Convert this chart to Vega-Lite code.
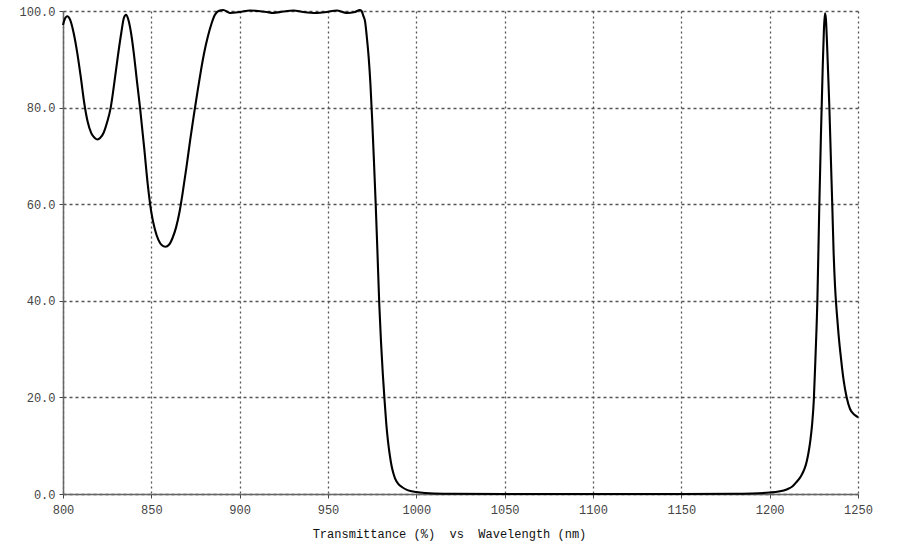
{
  "$schema": "https://vega.github.io/schema/vega-lite/v6.json",
  "width": 795,
  "height": 483,
  "autosize": "none",
  "padding": {"left": 63, "top": 11, "right": 42, "bottom": 57},
  "background": "white",
  "config": {"view": {"stroke": null}},
  "data": {"values": [
    {"w": 800, "t": 97.1}, {"w": 801, "t": 98.3}, {"w": 802.4, "t": 98.9}, {"w": 804, "t": 98.2},
    {"w": 806, "t": 95.5}, {"w": 808, "t": 91.5}, {"w": 810, "t": 86.5}, {"w": 812, "t": 81},
    {"w": 814, "t": 77}, {"w": 816, "t": 74.7}, {"w": 818, "t": 73.7}, {"w": 819.6, "t": 73.4},
    {"w": 821, "t": 73.7}, {"w": 823, "t": 74.8}, {"w": 825, "t": 77}, {"w": 827, "t": 80},
    {"w": 829, "t": 85}, {"w": 831, "t": 90.5}, {"w": 833, "t": 95.5}, {"w": 834.5, "t": 98.6},
    {"w": 835.7, "t": 99.2}, {"w": 837, "t": 98.2}, {"w": 838.5, "t": 95.5}, {"w": 840, "t": 91.5},
    {"w": 842, "t": 85}, {"w": 843.6, "t": 80}, {"w": 846, "t": 71.5}, {"w": 848, "t": 64},
    {"w": 850, "t": 58.3}, {"w": 852, "t": 54.8}, {"w": 854, "t": 52.6}, {"w": 856, "t": 51.5},
    {"w": 858, "t": 51.2}, {"w": 860, "t": 51.6}, {"w": 862, "t": 53}, {"w": 864, "t": 55.2},
    {"w": 866, "t": 58.5}, {"w": 868, "t": 63}, {"w": 870, "t": 68}, {"w": 872, "t": 73.3},
    {"w": 874, "t": 78.3}, {"w": 876, "t": 83}, {"w": 878, "t": 87.5}, {"w": 880, "t": 91.5},
    {"w": 882, "t": 94.7}, {"w": 884, "t": 97.3}, {"w": 886, "t": 99.2}, {"w": 888, "t": 100},
    {"w": 890.7, "t": 100.2}, {"w": 894.5, "t": 99.6}, {"w": 900.2, "t": 99.8}, {"w": 905.8, "t": 100.1},
    {"w": 910.5, "t": 100}, {"w": 915.3, "t": 99.8}, {"w": 919, "t": 99.6}, {"w": 924.7, "t": 99.9},
    {"w": 930.4, "t": 100.1}, {"w": 936, "t": 99.8}, {"w": 943.6, "t": 99.6}, {"w": 949.3, "t": 99.8},
    {"w": 954.9, "t": 100.1}, {"w": 960.6, "t": 99.6}, {"w": 965.3, "t": 99.8}, {"w": 968, "t": 100.2},
    {"w": 969, "t": 100}, {"w": 970, "t": 99}, {"w": 971, "t": 97.8}, {"w": 972, "t": 94.5},
    {"w": 973, "t": 90.5}, {"w": 974, "t": 85}, {"w": 975, "t": 77.5}, {"w": 976, "t": 69},
    {"w": 977, "t": 60}, {"w": 978, "t": 50}, {"w": 979, "t": 39.5}, {"w": 980, "t": 31.5},
    {"w": 981, "t": 25}, {"w": 982, "t": 19.5}, {"w": 983, "t": 14.5}, {"w": 984, "t": 10.8},
    {"w": 985, "t": 8}, {"w": 986, "t": 5.8}, {"w": 987, "t": 4.3}, {"w": 988, "t": 3.2},
    {"w": 990, "t": 2}, {"w": 992, "t": 1.4}, {"w": 995, "t": 0.8}, {"w": 1000, "t": 0.4},
    {"w": 1005, "t": 0.2}, {"w": 1010, "t": 0.1}, {"w": 1020, "t": 0.05}, {"w": 1050, "t": 0},
    {"w": 1100, "t": 0}, {"w": 1150, "t": 0}, {"w": 1180, "t": 0.05}, {"w": 1190, "t": 0.1},
    {"w": 1200, "t": 0.3}, {"w": 1205, "t": 0.5}, {"w": 1210, "t": 1}, {"w": 1213, "t": 1.6},
    {"w": 1215, "t": 2.4}, {"w": 1217, "t": 3.3}, {"w": 1218, "t": 3.9}, {"w": 1219, "t": 4.6},
    {"w": 1220, "t": 5.5}, {"w": 1221, "t": 6.8}, {"w": 1222, "t": 8.6}, {"w": 1223, "t": 11},
    {"w": 1224, "t": 14.3}, {"w": 1225, "t": 19.5}, {"w": 1226, "t": 29}, {"w": 1227, "t": 40},
    {"w": 1228, "t": 58}, {"w": 1229, "t": 74}, {"w": 1230, "t": 88}, {"w": 1230.7, "t": 96},
    {"w": 1231.3, "t": 99.5}, {"w": 1231.8, "t": 98.5}, {"w": 1232.5, "t": 93}, {"w": 1233, "t": 88},
    {"w": 1233.8, "t": 80}, {"w": 1234.6, "t": 70}, {"w": 1235.5, "t": 59}, {"w": 1236.2, "t": 50},
    {"w": 1237, "t": 43}, {"w": 1238, "t": 37.5}, {"w": 1239, "t": 33}, {"w": 1240, "t": 29.3},
    {"w": 1241, "t": 26}, {"w": 1242, "t": 23.2}, {"w": 1243.6, "t": 20}, {"w": 1245.5, "t": 17.6},
    {"w": 1248, "t": 16.4}, {"w": 1250, "t": 15.9}
  ]},
  "mark": {"type": "line", "color": "black", "strokeWidth": 2.1, "interpolate": "monotone"},
  "encoding": {
    "x": {
      "field": "w", "type": "quantitative",
      "scale": {"domain": [800, 1250], "nice": false, "zero": false},
      "axis": {
        "values": [800, 850, 900, 950, 1000, 1050, 1100, 1150, 1200, 1250],
        "format": "d",
        "title": "Transmittance (%)\u00a0\u00a0vs\u00a0\u00a0Wavelength (nm)",
        "titleFont": "Liberation Mono", "titleFontSize": 12, "titleFontWeight": "normal",
        "titleColor": "#111", "titlePadding": 13, "titleX": 386, "titleAlign": "center",
        "labelFont": "Liberation Mono", "labelFontSize": 12, "labelColor": "#444",
        "labelPadding": 6, "labelFlush": false,
        "domainColor": "#666", "domainWidth": 1.5,
        "tickColor": "#444", "tickSize": 4, "tickOffset": 0,
        "grid": true, "gridColor": "#555", "gridDash": [2, 3], "gridWidth": 1.3
      }
    },
    "y": {
      "field": "t", "type": "quantitative",
      "scale": {"domain": [0, 100], "nice": false},
      "axis": {
        "values": [0, 20, 40, 60, 80, 100],
        "format": ".1f",
        "title": null,
        "labelFont": "Liberation Mono", "labelFontSize": 12, "labelColor": "#444",
        "labelPadding": 4,
        "domainColor": "#666", "domainWidth": 1.5,
        "tickColor": "#444", "tickSize": 4,
        "grid": true, "gridColor": "#555", "gridDash": [3, 3], "gridWidth": 1.3
      }
    }
  }
}
